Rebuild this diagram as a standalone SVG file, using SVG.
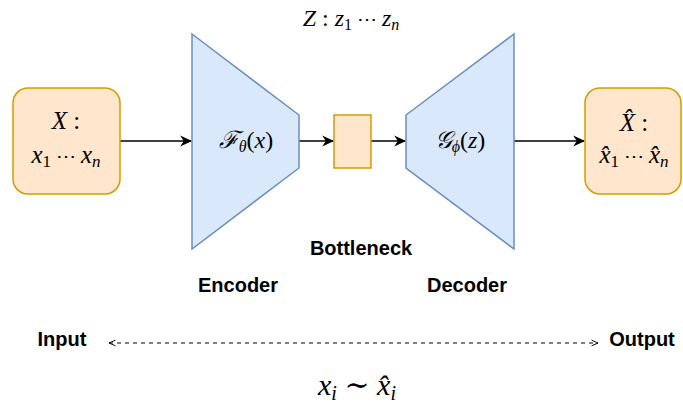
<svg xmlns="http://www.w3.org/2000/svg" width="683" height="410" viewBox="0 0 683 410">
<defs>
<marker id="arr" viewBox="0 0 10 10" refX="9" refY="5" markerWidth="12" markerHeight="12" markerUnits="userSpaceOnUse" orient="auto">
<path d="M0,0.5 L10,5 L0,9.5 L3,5 Z" fill="#000"/>
</marker>
<marker id="open" viewBox="0 0 10 10" refX="9" refY="5" markerWidth="8" markerHeight="8" markerUnits="userSpaceOnUse" orient="auto-start-reverse">
<path d="M1,1.5 L9,5 L1,8.5" fill="none" stroke="#000" stroke-width="1.2"/>
</marker>
<style>
.io{fill:#ffe6cc;stroke:#d79b00;stroke-width:1.5}
.nn{fill:#dae8fc;stroke:#6c8ebf;stroke-width:1.5}
.m{font-family:"Liberation Serif","DejaVu Serif",serif;font-style:italic;fill:#000}
.r{font-family:"Liberation Serif","DejaVu Serif",serif;font-style:normal}
.lbl{font-family:"Liberation Sans",Arial,sans-serif;font-weight:bold;font-size:20px;fill:#000}
.c{stroke:#000;stroke-width:1.5;fill:none}
</style>
</defs>
<g id="connectors">
<line class="c" x1="120" y1="141" x2="191" y2="141" marker-end="url(#arr)"/>
<line class="c" x1="299" y1="141" x2="333" y2="141" marker-end="url(#arr)"/>
<line class="c" x1="371" y1="141" x2="405" y2="141" marker-end="url(#arr)"/>
<line class="c" x1="514" y1="141" x2="584" y2="141" marker-end="url(#arr)"/>
<line x1="109" y1="343" x2="598" y2="343" stroke="#000" stroke-width="1" stroke-dasharray="4,4" marker-start="url(#open)" marker-end="url(#open)"/>
</g>
<g id="input">
<rect class="io" x="13" y="88" width="107" height="106" rx="15"/>
<text class="m" x="66" y="129" font-size="25" text-anchor="middle">X <tspan class="r">:</tspan></text>
<text class="m" x="66" y="163" font-size="25" text-anchor="middle">x<tspan class="r" font-size="17" dy="4">1</tspan><tspan class="r" font-size="20" dy="-4"> ⋯ </tspan>x<tspan font-size="17" dy="4">n</tspan></text>
</g>
<g id="encoder">
<polygon class="nn" points="192,34 299,115 299,168 192,249"/>
<text class="m" x="246" y="148" font-size="24" text-anchor="middle">ℱ<tspan font-size="16" dy="4">θ</tspan><tspan class="r" dy="-4">(</tspan>x<tspan class="r">)</tspan></text>
</g>
<g id="bottleneck">
<rect class="io" x="334" y="115" width="37" height="53"/>
</g>
<g id="decoder">
<polygon class="nn" points="406,115 514,34 514,249 406,168"/>
<text class="m" x="460" y="148" font-size="24" text-anchor="middle">𝒢<tspan font-size="16" dy="4">ϕ</tspan><tspan class="r" dy="-4">(</tspan>z<tspan class="r">)</tspan></text>
</g>
<g id="output">
<rect class="io" x="585" y="88" width="96" height="106" rx="15"/>
<text class="m" x="634" y="131" font-size="25" text-anchor="middle">X̂ <tspan class="r">:</tspan></text>
<text class="m" x="634" y="163" font-size="25" text-anchor="middle">x̂<tspan class="r" font-size="17" dy="4">1</tspan><tspan class="r" font-size="20" dy="-4"> ⋯ </tspan>x̂<tspan font-size="17" dy="4">n</tspan></text>
</g>
<g id="labels">
<text class="m" x="351" y="26" font-size="24" text-anchor="middle">Z <tspan class="r">:</tspan> z<tspan class="r" font-size="16" dy="4">1</tspan><tspan class="r" font-size="20" dy="-4"> ⋯ </tspan>z<tspan font-size="16" dy="4">n</tspan></text>
<text class="lbl" x="361" y="255" text-anchor="middle">Bottleneck</text>
<text class="lbl" x="238" y="292" text-anchor="middle">Encoder</text>
<text class="lbl" x="467" y="292" text-anchor="middle">Decoder</text>
<text class="lbl" x="62" y="346" text-anchor="middle">Input</text>
<text class="lbl" x="642" y="346" text-anchor="middle">Output</text>
<text class="m" x="357" y="395" font-size="30" text-anchor="middle">x<tspan font-size="20" dy="5">i</tspan><tspan class="r" dy="-5"> ∼ </tspan>x̂<tspan font-size="20" dy="5">i</tspan></text>
</g>
</svg>
